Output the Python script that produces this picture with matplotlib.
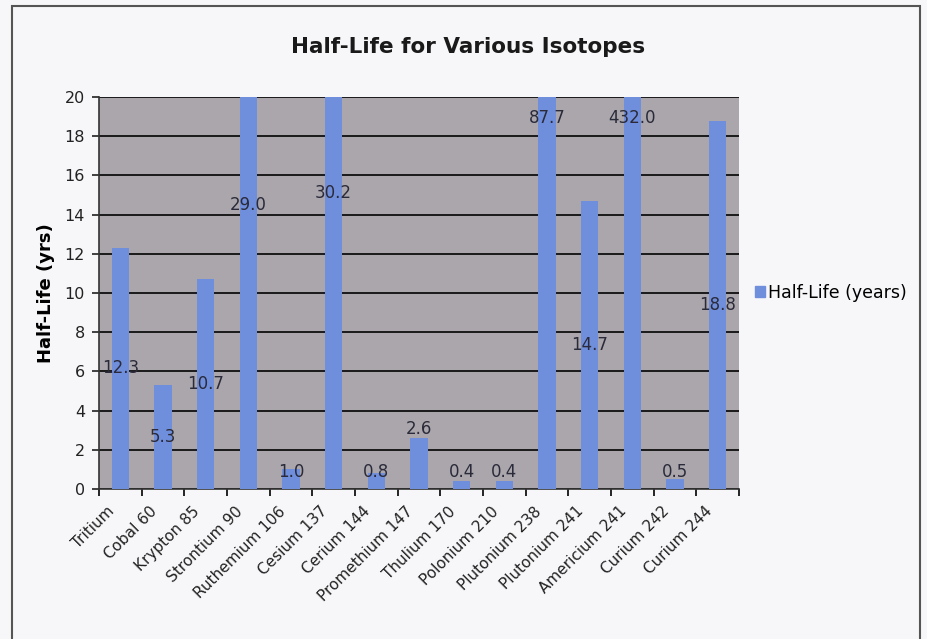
import numpy as np
import matplotlib
matplotlib.use("Agg")
import matplotlib.pyplot as plt
import matplotlib.transforms as mtransforms
from matplotlib.patches import Rectangle

# -----------------------
# DATA
# -----------------------
isotopes = ["Tritium", "Cobal 60", "Krypton 85", "Strontium 90", "Ruthemium 106",
            "Cesium 137", "Cerium 144", "Promethium 147", "Thulium 170", "Polonium 210",
            "Plutonium 238", "Plutonium 241", "Americium 241", "Curium 242", "Curium 244"]
half_life = [12.3, 5.3, 10.7, 29.0, 1.0, 30.2, 0.8, 2.6, 0.4, 0.4,
             87.7, 14.7, 432.0, 0.5, 18.8]
y_ticks = list(range(0, 21, 2))

bar_color = "#6f8fdc"
plot_bg = "#aaa6ab"
fig_bg = "#f7f7f9"

# -----------------------
# FIGURE
# -----------------------
W, H = 927, 639
fig = plt.figure(figsize=(W / 100, H / 100), dpi=100, facecolor=fig_bg)
ax = fig.add_axes([99 / W, 1 - 489 / H, (739 - 99) / W, (489 - 97) / H])
ax.set_facecolor(plot_bg)

x = np.arange(len(isotopes))
ax.bar(x, half_life, width=0.41, color=bar_color, zorder=3)

ax.set_xlim(-0.5, len(isotopes) - 0.5)
ax.set_ylim(0, 20)
ax.set_yticks(y_ticks)
ax.yaxis.grid(True, color="#1a1a1a", linewidth=1.4, zorder=1)
ax.set_axisbelow(True)

# value labels: centred in the bar, kept inside the plot
for xi, v in zip(x, half_life):
    if 1.0 < v < 3.0:
        ty = v + 0.45
    else:
        ty = min(max(v / 2, 0.85), 18.95)
    ax.text(xi, ty, f"{v:.1f}", ha="center", va="center", fontsize=12,
            color="#2a2a3a", zorder=4)

# category ticks between bars
ax.set_xticks(x)
ax.set_xticklabels(isotopes, rotation=45, ha="right", rotation_mode="anchor",
                   fontsize=11, color="#222222")
ax.tick_params(axis="x", which="major", length=0, pad=7)
shift = mtransforms.ScaledTranslation(-13.5 / 100, -5 / 100, fig.dpi_scale_trans)
for lbl in ax.get_xticklabels():
    lbl.set_transform(lbl.get_transform() + shift)
ax.set_xticks(np.arange(-0.5, len(isotopes)), minor=True)
ax.tick_params(axis="x", which="minor", length=5, width=1.2, direction="out")
ax.tick_params(axis="y", length=5, width=1.2, pad=5, labelsize=11.5, colors="#222222")

for side in ["top", "right"]:
    ax.spines[side].set_visible(False)
for side in ["left", "bottom"]:
    ax.spines[side].set_color("#333333")
    ax.spines[side].set_linewidth(1.2)

ax.set_ylabel("Half-Life (yrs)", fontsize=13, fontweight="bold", labelpad=7)
fig.text(468 / W, 1 - 47 / H, "Half-Life for Various Isotopes", ha="center", va="center",
         fontsize=15.5, fontweight="bold", color="#1a1a1a")

ax.legend([Rectangle((0, 0), 1, 1, color=bar_color)], ["Half-Life (years)"],
          loc="center left", bbox_to_anchor=(1.0, 0.5), frameon=False,
          fontsize=12.5, handlelength=0.6, handleheight=0.6, handletextpad=0.15,
          borderaxespad=0.5)

# outer chart border (runs off the bottom edge)
fig.patches.append(Rectangle((12 / W, -0.02), (920 - 12) / W, 1.02 - 6 / H,
                             transform=fig.transFigure, fill=False,
                             edgecolor="#555555", linewidth=1.5))

fig.savefig("out.png", dpi=100, facecolor=fig_bg)
